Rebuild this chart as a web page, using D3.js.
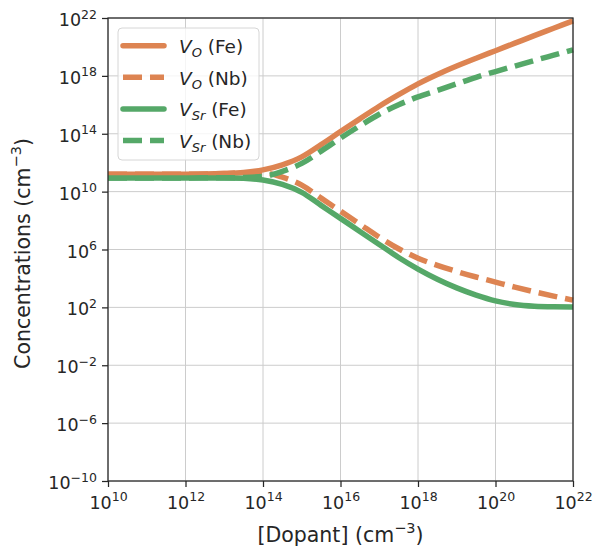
<!DOCTYPE html>
<html>
<head>
<meta charset="utf-8">
<script src="https://cdn.jsdelivr.net/npm/d3@7"></script>
<style>
  body { margin: 0; background: #fff; }
  text { font-family: "DejaVu Sans", sans-serif; fill: #262626; }
</style>
</head>
<body>
<div id="chart"></div>
<script>
// Canvas and plot box
const width = 603
const height = 558
const margin = { top: 18, right: 30, bottom: 77, left: 108 }

// log10 of [Dopant] where the curves were sampled
const dopantExp = [10, 11, 12, 13, 13.5, 14, 14.5, 15, 15.5, 16, 16.5, 17, 17.5, 18, 18.5, 19, 19.5, 20, 20.5, 21, 21.5, 22]

// log10 of concentrations
const voFe  = [11.2, 11.2, 11.2, 11.25, 11.32, 11.5, 11.85, 12.4, 13.25, 14.15, 15.03, 15.9, 16.7, 17.45, 18.1, 18.68, 19.22, 19.74, 20.26, 20.78, 21.29, 21.8]
const voNb  = [11.2, 11.2, 11.2, 11.25, 11.3, 11.3, 11.0, 10.45, 9.55, 8.65, 7.75, 6.85, 6.05, 5.4, 4.9, 4.48, 4.1, 3.75, 3.4, 3.08, 2.78, 2.5]
const vsrFe = [10.95, 10.95, 10.95, 10.95, 10.92, 10.8, 10.5, 9.95, 9.05, 8.15, 7.25, 6.35, 5.45, 4.65, 3.95, 3.35, 2.85, 2.45, 2.2, 2.08, 2.04, 2.03]
const vsrNb = [10.95, 10.95, 10.95, 10.96, 10.98, 11.05, 11.4, 11.95, 12.8, 13.7, 14.55, 15.35, 16.0, 16.55, 17.0, 17.45, 17.9, 18.3, 18.68, 19.06, 19.43, 19.8]

const xTickExp = [10, 12, 14, 16, 18, 20, 22]
const yTickExp = [-10, -6, -2, 2, 6, 10, 14, 18, 22]

const orange = "#dd8452"
const green = "#55a868"

// draw order: solids first, dashed on top
const series = [
    { name: "VO Fe", values: voFe, color: orange, dash: null },
    { name: "VSr Fe", values: vsrFe, color: green, dash: null },
    { name: "VO Nb", values: voNb, color: orange, dash: "19,8" },
    { name: "VSr Nb", values: vsrNb, color: green, dash: "19,8" }
]

const legendItems = [
    { sub: "O", tag: "(Fe)", color: orange, dash: null },
    { sub: "O", tag: "(Nb)", color: orange, dash: "19,8" },
    { sub: "Sr", tag: "(Fe)", color: green, dash: null },
    { sub: "Sr", tag: "(Nb)", color: green, dash: "19,8" }
]

const svg = d3.select("#chart")
    .append("svg")
    .attr("width", width)
    .attr("height", height)

const x = d3.scaleLog()
    .domain([1e10, 1e22])
    .range([margin.left, width - margin.right])
const y = d3.scaleLog()
    .domain([1e-10, 1e22])
    .range([height - margin.bottom, margin.top])

const x0 = margin.left, x1 = width - margin.right
const y0 = height - margin.bottom, y1 = margin.top

// grid
const grid = svg.append("g")
grid.selectAll("line.gx")
    .data(xTickExp)
    .join("line")
    .attr("x1", d => x(10 ** d)).attr("x2", d => x(10 ** d))
    .attr("y1", y0).attr("y2", y1)
    .attr("stroke", "#cccccc").attr("stroke-width", 1)
grid.selectAll("line.gy")
    .data(yTickExp)
    .join("line")
    .attr("x1", x0).attr("x2", x1)
    .attr("y1", d => y(10 ** d)).attr("y2", d => y(10 ** d))
    .attr("stroke", "#cccccc").attr("stroke-width", 1)

// curves
const line = d3.line()
    .x(d => x(10 ** d[0]))
    .y(d => y(10 ** d[1]))
    .curve(d3.curveMonotoneX)

const plot = svg.append("g")
series.forEach(s => {
    plot.append("path")
        .datum(dopantExp.map((e, i) => [e, s.values[i]]))
        .attr("d", line)
        .attr("fill", "none")
        .attr("stroke", s.color)
        .attr("stroke-width", 5.5)
        .attr("stroke-dasharray", s.dash)
})

// frame
svg.append("rect")
    .attr("x", x0).attr("y", y1)
    .attr("width", x1 - x0).attr("height", y0 - y1)
    .attr("fill", "none")
    .attr("stroke", "#262626")
    .attr("stroke-width", 1.25)

// axes with superscript labels
function powLabel(sel) {
    sel.each(function (d) {
        const t = d3.select(this).text(null)
        const e = Math.round(Math.log10(d))
        t.append("tspan").text("10")
        t.append("tspan").attr("font-size", 12.5).attr("dy", -7.5).text(e < 0 ? "\u2212" + (-e) : e)
    })
}

const xAxis = svg.append("g")
    .attr("transform", `translate(0,${y0})`)
    .call(d3.axisBottom(x).tickValues(xTickExp.map(e => 10 ** e)).tickSize(6).tickPadding(4))
xAxis.select(".domain").remove()
xAxis.selectAll(".tick line").attr("stroke", "#262626").attr("stroke-width", 1.25)
xAxis.selectAll(".tick text")
    .attr("font-size", 17.5)
    .attr("y", 27.5).attr("dy", 0)
    .call(powLabel)

const yAxis = svg.append("g")
    .attr("transform", `translate(${x0},0)`)
    .call(d3.axisLeft(y).tickValues(yTickExp.map(e => 10 ** e)).tickSize(6).tickPadding(5))
yAxis.select(".domain").remove()
yAxis.selectAll(".tick line").attr("stroke", "#262626").attr("stroke-width", 1.25)
yAxis.selectAll(".tick text")
    .attr("font-size", 17.5)
    .attr("x", -11).attr("dy", 7.5)
    .call(powLabel)

// axis titles
const xl = svg.append("text")
    .attr("x", (x0 + x1) / 2).attr("y", 542)
    .attr("text-anchor", "middle")
    .attr("font-size", 20.5)
xl.append("tspan").text("[Dopant] (cm")
xl.append("tspan").attr("font-size", 14.5).attr("dy", -9).text("\u22123")
xl.append("tspan").attr("dy", 9).text(")")

const yl = svg.append("text")
    .attr("transform", `translate(30,${(y0 + y1) / 2 + 4}) rotate(-90)`)
    .attr("text-anchor", "middle")
    .attr("font-size", 20.5)
yl.append("tspan").text("Concentrations (cm")
yl.append("tspan").attr("font-size", 14.5).attr("dy", -9).text("\u22123")
yl.append("tspan").attr("dy", 9).text(")")

// legend
const legend = svg.append("g")
legend.append("rect")
    .attr("x", 118).attr("y", 28)
    .attr("width", 141).attr("height", 132)
    .attr("rx", 4)
    .attr("fill", "white").attr("fill-opacity", 0.8)
    .attr("stroke", "#d6d6d6")

legendItems.forEach((d, i) => {
    const ly = 45.7 + i * 31.6
    legend.append("line")
        .attr("x1", 123).attr("x2", 164)
        .attr("y1", ly).attr("y2", ly)
        .attr("stroke", d.color)
        .attr("stroke-width", 5.5)
        .attr("stroke-dasharray", d.dash)
        .attr("stroke-linecap", d.dash ? "butt" : "round")
    const t = legend.append("text")
        .attr("x", 179).attr("y", ly + 7.5)
        .attr("font-size", 18.5)
    t.append("tspan").attr("font-style", "italic").text("V")
    t.append("tspan").attr("font-style", "italic").attr("font-size", 13).attr("dy", 4).text(d.sub)
    t.append("tspan").attr("dy", -4).text(" " + d.tag)
})
</script>
</body>
</html>
